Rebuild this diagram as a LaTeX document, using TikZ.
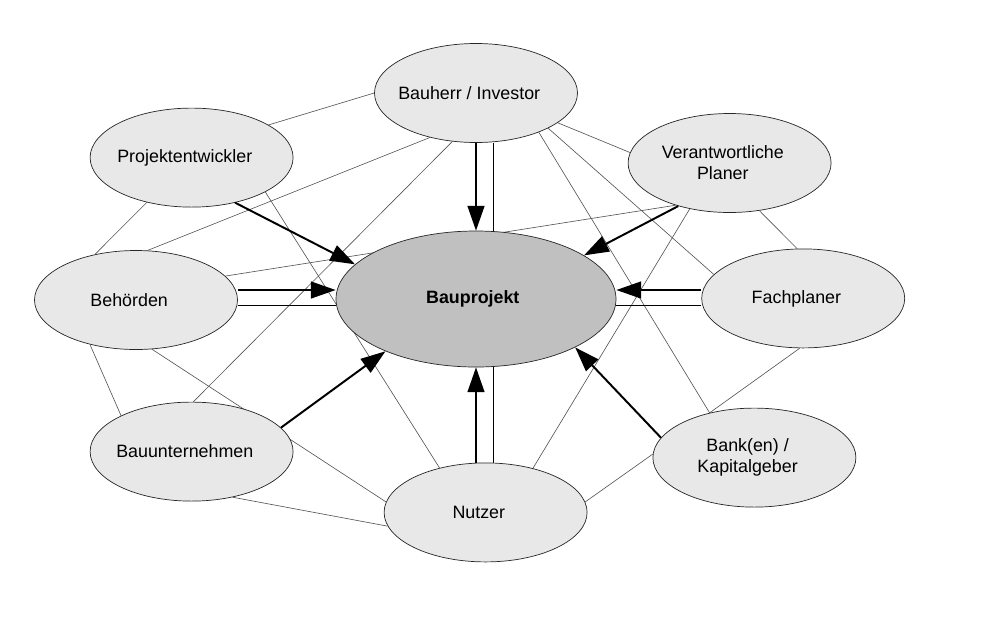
\documentclass[tikz,border=0pt]{standalone}
\usepackage{fontspec}
\setmainfont{Liberation Sans}
\usepackage{tikz}
\usetikzlibrary{arrows.meta,calc,backgrounds,shapes.geometric}
\definecolor{nodegray}{RGB}{232,232,232}
\definecolor{centergray}{RGB}{192,192,192}
\definecolor{linegray}{RGB}{85,85,85}

\begin{document}
\begin{tikzpicture}[>={Triangle[length=0.62cm,width=0.42cm]},
    partner/.style={ellipse, draw=black!85, line width=0.5pt, fill=nodegray,
      minimum width=5.075cm, minimum height=2.475cm, inner sep=0pt},
    txt/.style={align=center, xshift=-0.17cm, font=\fontsize{12.7}{15}\selectfont},
    link/.style={linegray, line width=0.45pt},
    pair/.style={black, line width=0.6pt},
    flow/.style={black, line width=1.4pt, ->}]
  \useasboundingbox (0,0) rectangle (24.675,-15.4);

  % ellipses
  \node[partner] (bauherr) at (11.9,-2.325) {};
  \node[partner] (entwickler) at (4.79,-3.94) {};
  \node[partner] (planer) at (18.24,-4.075) {};
  \node[partner] (behoerden) at (3.4,-7.5) {};
  \node[partner, fill=centergray, minimum width=7cm, minimum height=3.4cm] (bauprojekt) at (11.9,-7.475) {};
  \node[partner] (fachplaner) at (20.08,-7.46) {};
  \node[partner] (unternehmen) at (4.79,-11.29) {};
  \node[partner] (nutzer) at (12.14,-12.81) {};
  \node[partner] (bank) at (18.86,-11.44) {};

  % labels
  \node[txt] (bauherr-t) at (bauherr) {Bauherr / Investor};
  \node[txt] (entwickler-t) at (entwickler) {Projektentwickler};
  \node[txt] (planer-t) at (planer) {Verantwortliche\\Planer};
  \node[txt] (behoerden-t) at (behoerden) {Behörden};
  \node[txt, xshift=0.09cm, font=\fontsize{12.7}{15}\selectfont\bfseries] (bauprojekt-t) at (bauprojekt) {Bauprojekt};
  \node[txt] (fachplaner-t) at (fachplaner) {Fachplaner};
  \node[txt] (unternehmen-t) at (unternehmen) {Bauunternehmen};
  \node[txt] (nutzer-t) at (nutzer) {Nutzer};
  \node[txt] (bank-t) at (bank) {Bank(en) /\\Kapitalgeber};

  \begin{scope}[on background layer]
    % thin network
    \draw[link] (bauherr.180) -- (entwickler.23);
    \draw[link] (bauherr.224) -- (behoerden.77);
    \draw[link] (bauherr.244) -- (unternehmen.88);
    \draw[link] (bauherr.340) -- (planer.174);
    \draw[link] (bauherr.334) -- (fachplaner.165);
    \draw[link] (bauherr.328) -- (bank.135);
    \draw[link] (entwickler.225) -- (behoerden.132);
    \draw[link] (entwickler.335) -- (nutzer.136);
    \draw[link] (behoerden.15) -- (planer.218);
    \draw[link] (planer.229) -- (nutzer.43);
    \draw[link] (planer.302) -- (fachplaner.97);
    \draw[link] (fachplaner.266) -- (bank.135);
    \draw[link] (behoerden.224) -- (unternehmen.153);
    \draw[link] (behoerden.288) -- (nutzer.174);
    \draw[link] (unternehmen.312) -- (nutzer.188);
    \draw[link] (nutzer.6) -- (bank.178);

    % pairs to the project
    \draw[pair] ($(bauprojekt.north |- bauherr.south)+(0.425,0)$) -- ($(bauprojekt.north)+(0.425,0)$);
    \draw[pair] ($(bauprojekt.south |- nutzer.north)+(0.425,0)$) -- ($(bauprojekt.south)+(0.425,0)$);
    \draw[pair] ($(behoerden.east |- bauprojekt.west)+(0,-0.15)$) -- ($(bauprojekt.west)+(0,-0.15)$);
    \draw[pair] ($(fachplaner.west |- bauprojekt.east)+(0,-0.15)$) -- ($(bauprojekt.east)+(0,-0.15)$);
  \end{scope}

  % arrows
  \draw[flow] (bauprojekt.north |- bauherr.south) -- (bauprojekt.north);
  \draw[flow] (bauprojekt.south |- nutzer.north) -- (bauprojekt.south);
  \draw[flow] ($(behoerden.east |- bauprojekt.west)+(0,0.225)$) -- ($(bauprojekt.west)+(0,0.225)$);
  \draw[flow] ($(fachplaner.west |- bauprojekt.east)+(0,0.225)$) -- ($(bauprojekt.east)+(0,0.225)$);
  \draw[flow] (entwickler.314) -- (bauprojekt.164);
  \draw[flow] (planer.220) -- (bauprojekt.22);
  \draw[flow] (unternehmen.15) -- (bauprojekt.210);
  \draw[flow] (bank.168) -- (bauprojekt.334);
\end{tikzpicture}
\end{document}
